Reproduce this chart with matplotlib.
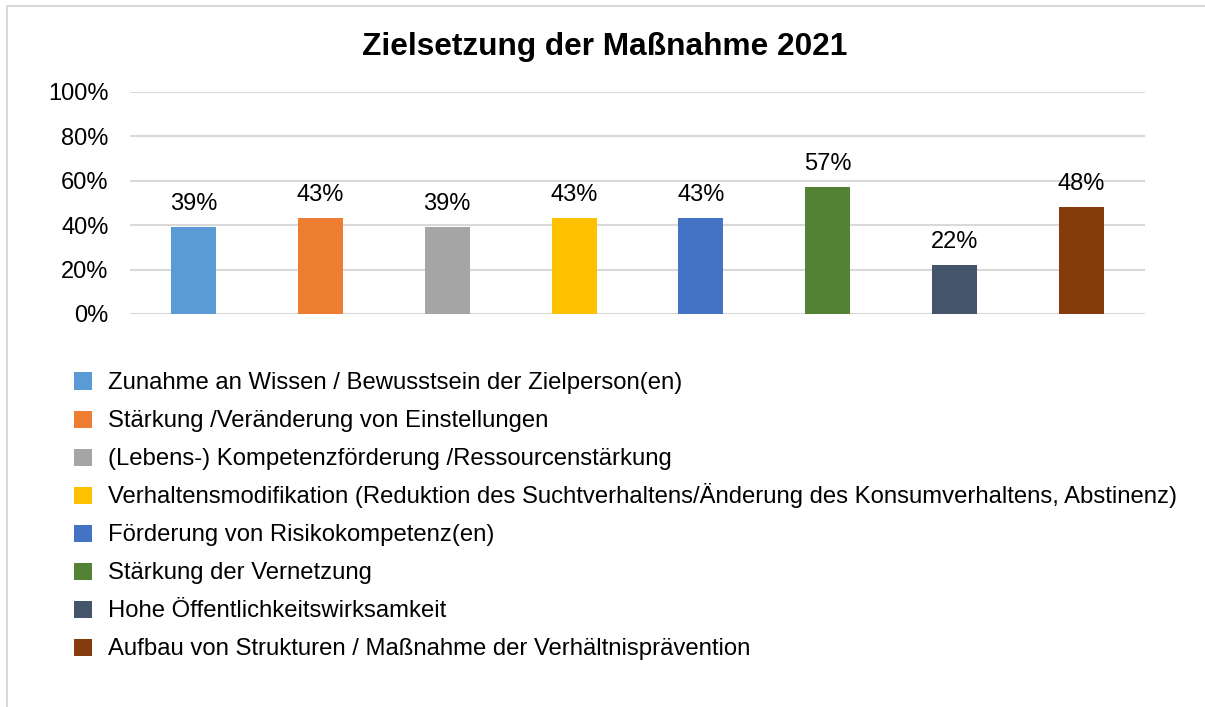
import matplotlib.pyplot as plt
import matplotlib.patches as patches

categories = [
    "Zunahme an Wissen / Bewusstsein der Zielperson(en)",
    "Stärkung /Veränderung von Einstellungen",
    "(Lebens-) Kompetenzförderung /Ressourcenstärkung",
    "Verhaltensmodifikation (Reduktion des Suchtverhaltens/Änderung des Konsumverhaltens, Abstinenz)",
    "Förderung von Risikokompetenz(en)",
    "Stärkung der Vernetzung",
    "Hohe Öffentlichkeitswirksamkeit",
    "Aufbau von Strukturen / Maßnahme der Verhältnisprävention",
]
values = [0.39, 0.43, 0.39, 0.43, 0.43, 0.57, 0.22, 0.48]
colors = ["#5B9BD5", "#ED7D31", "#A5A5A5", "#FFC000",
          "#4472C4", "#548235", "#44546A", "#843C0C"]
yticks = [0, 0.2, 0.4, 0.6, 0.8, 1.0]
ytick_labels = ["0%", "20%", "40%", "60%", "80%", "100%"]

plt.rcParams['font.family'] = ['Liberation Sans', 'DejaVu Sans']

W, H = 1205, 707
fig = plt.figure(figsize=(W / 100, H / 100), dpi=100)

def fx(px):
    return px / W

def fy(py):
    # pixel rows counted from the top
    return 1 - py / H

# outer chart border (cropped at right / bottom)
fig.add_artist(patches.Rectangle((fx(7), -0.1), 1.2, fy(5.5) + 0.1,
                                 transform=fig.transFigure, fill=False,
                                 ec='#D9D9D9', lw=1.5))

# plot area
ax = fig.add_axes([fx(130), fy(314), fx(1015), (314 - 91.5) / H])
x = list(range(len(values)))
bars = ax.bar(x, values, width=0.355, color=colors, zorder=3)
ax.set_xlim(-0.5, len(values) - 0.5)
ax.set_ylim(0, 1)
ax.set_yticks(yticks)
ax.set_yticklabels(ytick_labels, fontsize=17)
ax.set_xticks([])
ax.tick_params(axis='y', length=0, pad=15.5)
ax.grid(axis='y', color='#D9D9D9', lw=1.5, zorder=0)
for s in ax.spines.values():
    s.set_visible(False)

ax.bar_label(bars, labels=[f"{round(v * 100)}%" for v in values],
             padding=9, fontsize=17)

fig.text(fx(605), fy(47), "Zielsetzung der Maßnahme 2021",
         ha='center', va='center', fontsize=22.8, fontweight='bold')

# legend, one row per category
row0, row_step = 381.2, 38.0
for i, (lab, col) in enumerate(zip(categories, colors)):
    yc = row0 + i * row_step
    fig.add_artist(patches.Rectangle((fx(74.3), fy(yc + 8.8)), fx(17.5), 17.5 / H,
                                     transform=fig.transFigure, fc=col, ec='none'))
    fig.text(fx(108.3), fy(yc + 8), lab, ha='left', va='baseline', fontsize=17.2)

fig.savefig('out.png', dpi=100)
